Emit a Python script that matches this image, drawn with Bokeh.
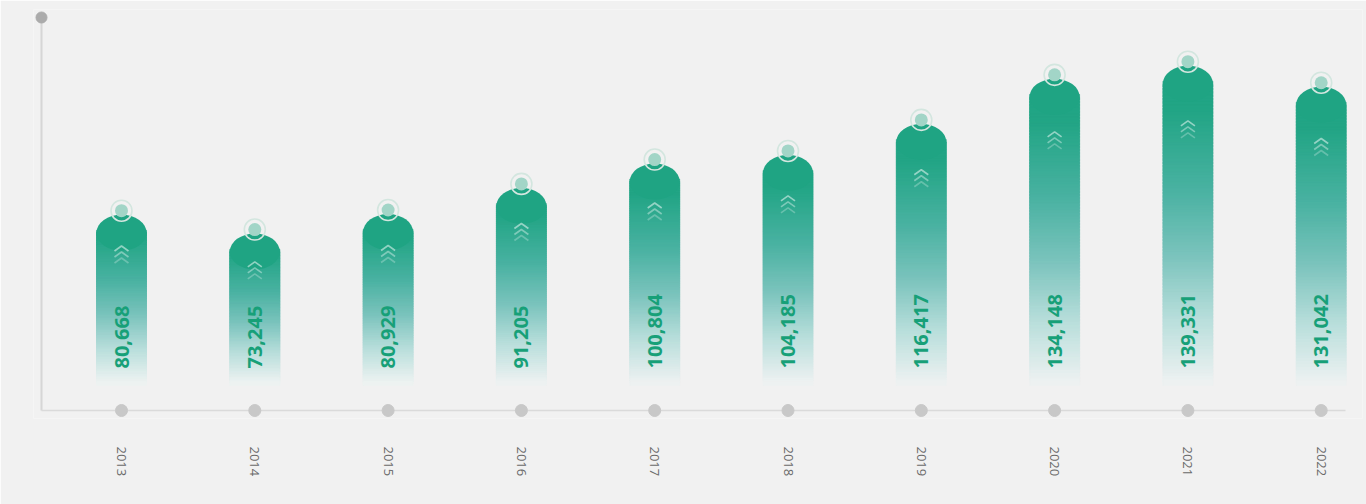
import numpy as np
from bokeh.plotting import figure
from bokeh.models import Range1d, FixedTicker, ColumnDataSource
from bokeh.embed import file_html
from bokeh.resources import INLINE
from bokeh.core.properties import value

# ---- data ----
years = [2013, 2014, 2015, 2016, 2017, 2018, 2019, 2020, 2021, 2022]
values = [80668, 73245, 80929, 91205, 100804, 104185, 116417, 134148, 139331, 131042]
value_labels = ["80,668", "73,245", "80,929", "91,205", "100,804",
                "104,185", "116,417", "134,148", "139,331", "131,042"]

# ---- layout constants ----
W, H = 1366, 504
ML, MR, MT, MB = 33, 4, 9, 86
FW = W - ML - MR
FH = H - MT - MB
PX_PER_YEAR = 133.3          # horizontal pixels per category step
XU = 1.0 / PX_PER_YEAR       # x data units per pixel
x0 = years[0] - 88 * XU
x1 = x0 + FW * XU
UPP = 393.7                  # y data units per pixel
BASE = 2000                  # baseline value
y0 = BASE - 8 * UPP
y1 = y0 + FH * UPP

BG = "#f1f1f1"

p = figure(width=W, height=H, output_backend="svg", toolbar_location=None,
           x_range=Range1d(x0, x1), y_range=Range1d(y0, y1),
           y_axis_location=None, min_border_left=ML, min_border_right=MR,
           min_border_top=MT, min_border_bottom=MB)
p.background_fill_color = BG
p.border_fill_color = BG
p.outline_line_color = None
p.xgrid.visible = False
p.ygrid.visible = False

# ---- axes lines (drawn manually so end dots are not clipped) ----
ax_x = x0 + 8 * XU
ax_right = x1 - 17 * XU
ax_top = BASE + 393 * UPP
p.segment(x0=[ax_x], y0=[BASE], x1=[ax_x], y1=[ax_top], line_color="#d6d6d6", line_width=2)
p.segment(x0=[ax_x], y0=[BASE], x1=[ax_right], y1=[BASE], line_color="#dadada", line_width=1.5)
p.scatter(x=[ax_x], y=[ax_top], size=11, color="#ababab")

# ---- gradient bars ----
stops = [(0.0, (31, 164, 131)), (0.15, (34, 165, 133)), (0.4, (74, 178, 162)),
         (0.6, (122, 195, 188)), (0.8, (184, 222, 219)), (1.0, (238, 242, 242))]

def grad(t):
    for (ta, ca), (tb, cb) in zip(stops[:-1], stops[1:]):
        if t <= tb:
            f = (t - ta) / (tb - ta)
            c = [int(round(a + (b - a) * f)) for a, b in zip(ca, cb)]
            return "#%02x%02x%02x" % tuple(c)
    return "#%02x%02x%02x" % stops[-1][1]

HALF = 25 * XU
N = 90
ql, qr, qt, qb, qc = [], [], [], [], []
cap_x, cap_y, cap_c = [], [], []
chev_xs, chev_ys, chev_a = [], [], []
for yr, v in zip(years, values):
    apex = v - 4 * UPP
    capc = apex - 18 * UPP
    bottom = BASE + 25 * UPP
    span = apex - bottom
    edges = np.linspace(capc, bottom, N + 1)
    for k in range(N):
        top_e, bot_e = edges[k], edges[k + 1]
        mid = 0.5 * (top_e + bot_e)
        t = (apex - mid) / span
        ql.append(yr - HALF); qr.append(yr + HALF)
        qt.append(top_e + 2.5 * UPP); qb.append(bot_e)
        qc.append(grad(t))
    cap_x.append(yr); cap_y.append(capc); cap_c.append(grad(0))
    # chevrons
    tip0 = apex - 0.16 * (apex - BASE)
    for j, a in enumerate([0.5, 0.38, 0.26]):
        tip = tip0 - j * 6 * UPP
        chev_xs.append([yr - 7 * XU, yr, yr + 7 * XU])
        chev_ys.append([tip - 5 * UPP, tip, tip - 5 * UPP])
        chev_a.append(a)

p.quad(left=ql, right=qr, top=qt, bottom=qb, fill_color=qc, line_color=qc, line_width=0.5)
p.ellipse(x=cap_x, y=cap_y, width=50 * XU, height=36 * UPP, fill_color=cap_c, line_color=None)
p.multi_line(xs=chev_xs, ys=chev_ys, line_color="white", line_alpha=chev_a, line_width=1.7)

# ---- top rings ----
p.scatter(x=years, y=values, size=21, fill_color=None, line_color="#d3e6df", line_width=1.6)
p.scatter(x=years, y=values, size=13, fill_color="#a2d5c7", line_color=None)

# ---- baseline dots ----
p.scatter(x=years, y=[BASE] * len(years), size=12, color="#c8c8c8")

# ---- value labels ----
src = ColumnDataSource(dict(x=years, y=[BASE + 42 * UPP] * len(years), t=value_labels))
p.text(x="x", y="y", text="t", source=src, angle=np.pi / 2, text_align="left",
       text_baseline="middle", text_color="#17a078", text_font=value("Open Sans"),
       text_font_style="bold", text_font_size="20px")

# ---- x axis labels ----
xa = p.xaxis[0]
xa.ticker = FixedTicker(ticks=years)
xa.major_label_orientation = "vertical"
xa.major_label_standoff = 22
xa.major_label_text_font = "Open Sans"
xa.major_label_text_font_size = "13px"
xa.major_label_text_color = "#6a6a6a"
xa.axis_line_color = None
xa.major_tick_line_color = None
xa.minor_tick_line_color = None

html = file_html(p, INLINE)
html = html.replace("<body>", '<body style="background:%s">' % BG, 1)
open("out.html", "w").write(html)
